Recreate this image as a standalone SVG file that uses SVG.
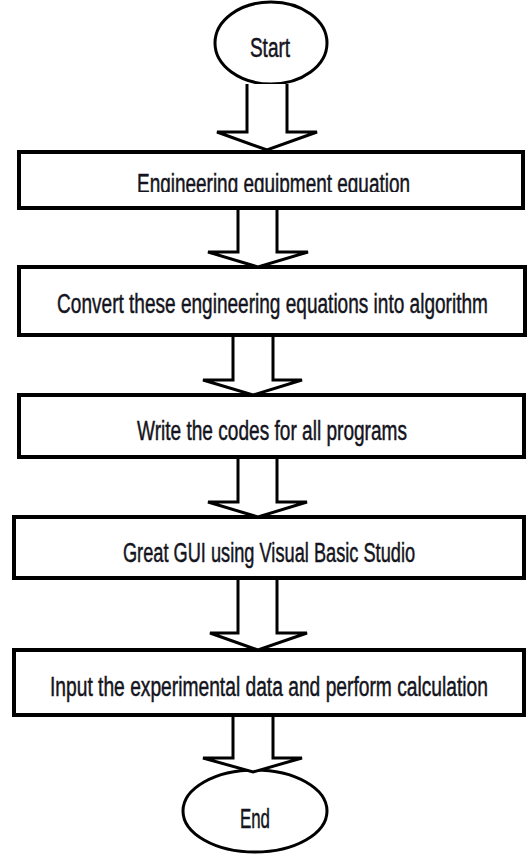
<svg xmlns="http://www.w3.org/2000/svg" width="527" height="855" viewBox="0 0 527 855">
<style>
.box{fill:#fff;stroke:#000;stroke-width:4}
.term{fill:#fff;stroke:#000;stroke-width:3}
.arr{fill:#fff;stroke:#000;stroke-width:3;stroke-linejoin:miter}
.t{font-family:"Liberation Sans",Arial,sans-serif;font-size:28px;fill:#141420;stroke:#141420;stroke-width:0.5;text-anchor:middle}
</style>
<defs>
<clipPath id="c1"><rect x="0" y="150" width="527" height="42"/></clipPath>
</defs>
<rect width="527" height="855" fill="#fff"/>
<g id="start">
<ellipse class="term" cx="271" cy="43" rx="56" ry="41"/>
<text class="t" transform="translate(270,57) scale(0.6,1)" textLength="67" lengthAdjust="spacingAndGlyphs">Start</text>
</g>
<g id="n1">
<rect class="box" x="19" y="152" width="504" height="56"/>
<g clip-path="url(#c1)">
<text class="t" transform="translate(273.5,193) scale(0.6,1)" textLength="455" lengthAdjust="spacingAndGlyphs">Engineering equipment equation</text>
</g>
</g>
<g id="n2">
<rect class="box" x="19" y="267" width="506" height="68"/>
<text class="t" transform="translate(272.5,313) scale(0.6,1)" textLength="718" lengthAdjust="spacingAndGlyphs">Convert these engineering equations into algorithm</text>
</g>
<g id="n3">
<rect class="box" x="19" y="395" width="505" height="62"/>
<text class="t" transform="translate(272,440) scale(0.6,1)" textLength="450" lengthAdjust="spacingAndGlyphs">Write the codes for all programs</text>
</g>
<g id="n4">
<rect class="box" x="14" y="517" width="510" height="61"/>
<text class="t" transform="translate(269,562) scale(0.6,1)" textLength="487" lengthAdjust="spacingAndGlyphs">Great GUI using Visual Basic Studio</text>
</g>
<g id="n5">
<rect class="box" x="14" y="650" width="510" height="65"/>
<text class="t" transform="translate(269,696) scale(0.6,1)" textLength="730" lengthAdjust="spacingAndGlyphs">Input the experimental  data and perform  calculation</text>
</g>
<g id="end">
<ellipse class="term" cx="255" cy="811" rx="72" ry="41"/>
<text class="t" transform="translate(255,828) scale(0.6,1)" textLength="50" lengthAdjust="spacingAndGlyphs">End</text>
</g>
<g id="connectors">
<path class="arr" d="M247 84 V132 H217 L267 150 L317 132 H287 V84"/>
<path class="arr" d="M238 210 V252 H208 L258 267 L308 252 H277 V210"/>
<path class="arr" d="M233 337 V380 H203 L253 395 L302 380 H273 V337"/>
<path class="arr" d="M238 459 V502 H208 L258 517 L307 502 H277 V459"/>
<path class="arr" d="M238 580 V633 H210 L258 650 L307 633 H277 V580"/>
<path class="arr" d="M233 717 V758 H203 L253 772 L302 758 H273 V717"/>
</g>
</svg>
